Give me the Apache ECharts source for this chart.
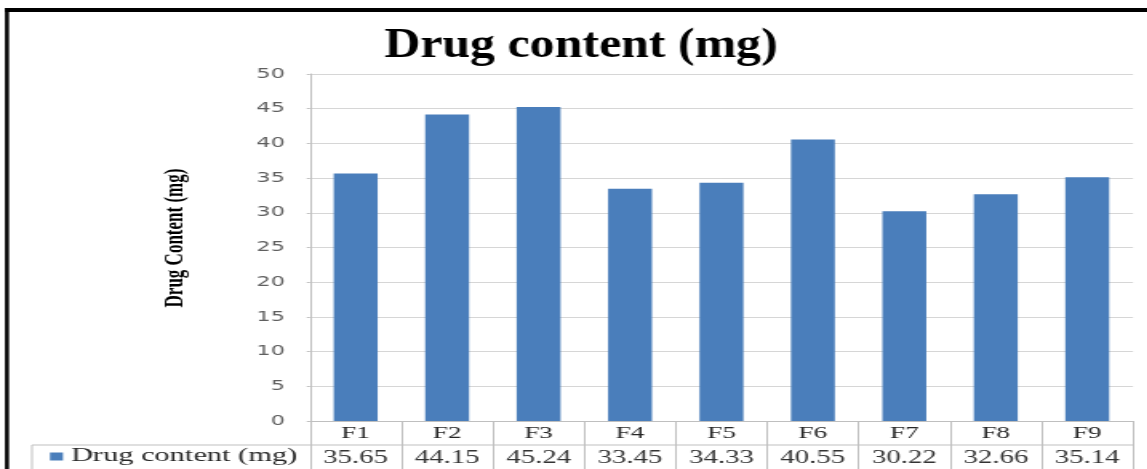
<!DOCTYPE html>
<html>
<head>
<meta charset="utf-8">
<script src="https://cdn.jsdelivr.net/npm/echarts@6/dist/echarts.min.js"></script>
<style>
  html, body { margin: 0; padding: 0; background: #ffffff; overflow: hidden; }
  /* the chart is laid out narrower and widened horizontally, giving the wide lettering */
  #chart { width: 717px; height: 469px; transform: scaleX(1.6); transform-origin: 0 0; }
</style>
</head>
<body>
<div id="chart"></div>
<script>
// Formulation labels and measured drug content
const categories = ['F1', 'F2', 'F3', 'F4', 'F5', 'F6', 'F7', 'F8', 'F9'];
const drugContent = [35.65, 44.15, 45.24, 33.45, 34.33, 40.55, 30.22, 32.66, 35.14];
const seriesName = 'Drug content (mg)';
const chartTitle = 'Drug content (mg)';
const yAxisName = 'Drug Content (mg)';
const yMin = 0, yMax = 50, yStep = 5;

// layout, in the un-widened coordinate space
const S = 1.6;
const W0 = 1147 / S;
const PLOT_LEFT = 310 / S;
const PLOT_RIGHT = 1133 / S;
const PLOT_TOP = 74;
const PLOT_BOTTOM = 421;
const ROW2_TOP = 445;
const TABLE_LEFT = 32 / S;

const chart = echarts.init(document.getElementById('chart'));

chart.setOption({
  backgroundColor: '#ffffff',
  animation: false,
  legend: {
    data: [seriesName],
    left: 50 / S,
    top: 447,
    padding: 0,
    icon: 'rect',
    itemWidth: 13 / S,
    itemHeight: 8,
    textStyle: { fontFamily: 'Liberation Serif', fontSize: 19, color: '#262626' }
  },
  grid: {
    left: PLOT_LEFT,
    top: PLOT_TOP,
    width: PLOT_RIGHT - PLOT_LEFT,
    height: PLOT_BOTTOM - PLOT_TOP,
    containLabel: false
  },
  xAxis: [
    {
      type: 'category',
      data: categories,
      position: 'bottom',
      axisLine: { show: true, lineStyle: { color: '#bfbfbf', width: 1 } },
      axisTick: { show: true, interval: 0, alignWithLabel: false, length: 48, lineStyle: { color: '#bfbfbf', width: 1 } },
      axisLabel: { interval: 0, margin: 4, fontFamily: 'Liberation Serif', fontSize: 17, color: '#262626' },
      splitLine: { show: false }
    },
    {
      // value row of the data table
      type: 'category',
      data: categories,
      position: 'bottom',
      offset: ROW2_TOP - PLOT_BOTTOM,
      axisLine: { show: false },
      axisTick: { show: false },
      axisLabel: {
        interval: 0, margin: 4,
        fontFamily: 'Liberation Serif', fontSize: 18, color: '#333333',
        formatter: (v, i) => drugContent[i].toFixed(2)
      },
      splitLine: { show: false }
    }
  ],
  yAxis: {
    type: 'value',
    min: yMin,
    max: yMax,
    interval: yStep,
    axisLine: { show: true, lineStyle: { color: '#bfbfbf', width: 1 } },
    axisTick: { show: true, length: 2, lineStyle: { color: '#bfbfbf' } },
    axisLabel: { margin: 25 / S, fontFamily: 'DejaVu Sans', fontSize: 14, color: '#5f5f5f' },
    splitLine: { show: true, lineStyle: { color: '#d6d6d6', width: 1 } }
  },
  series: [
    {
      name: seriesName,
      type: 'bar',
      xAxisIndex: 0,
      data: drugContent,
      barWidth: '48%',
      itemStyle: { color: '#4a7ebb' }
    }
  ],
  graphic: [
    // chart title
    { type: 'text', silent: true, x: 581 / S, y: 46, scaleX: 0.725,
      style: { text: chartTitle, x: 0, y: 0, align: 'center', verticalAlign: 'middle',
               font: 'bold 43px "Liberation Serif"', fill: '#000000' } },
    // value axis title
    { type: 'text', silent: true, x: 175 / S, y: 238, rotation: Math.PI / 2,
      style: { text: yAxisName, x: 0, y: 0, align: 'center', verticalAlign: 'middle',
               font: 'bold 17px "Liberation Serif"', fill: '#000000' } },
    // data table: separator above the value row and its left edge
    { type: 'line', silent: true, shape: { x1: TABLE_LEFT, y1: ROW2_TOP, x2: PLOT_RIGHT, y2: ROW2_TOP },
      style: { stroke: '#bfbfbf', lineWidth: 1 } },
    { type: 'line', silent: true, shape: { x1: TABLE_LEFT, y1: ROW2_TOP, x2: TABLE_LEFT, y2: 469 },
      style: { stroke: '#bfbfbf', lineWidth: 1 } },
    // outer frame (top and left edges)
    { type: 'rect', silent: true, shape: { x: 5 / S, y: 8, width: W0, height: 4 }, style: { fill: '#000000' } },
    { type: 'rect', silent: true, shape: { x: 5 / S, y: 8, width: 4 / S, height: 469 }, style: { fill: '#000000' } }
  ]
});
</script>
</body>
</html>
